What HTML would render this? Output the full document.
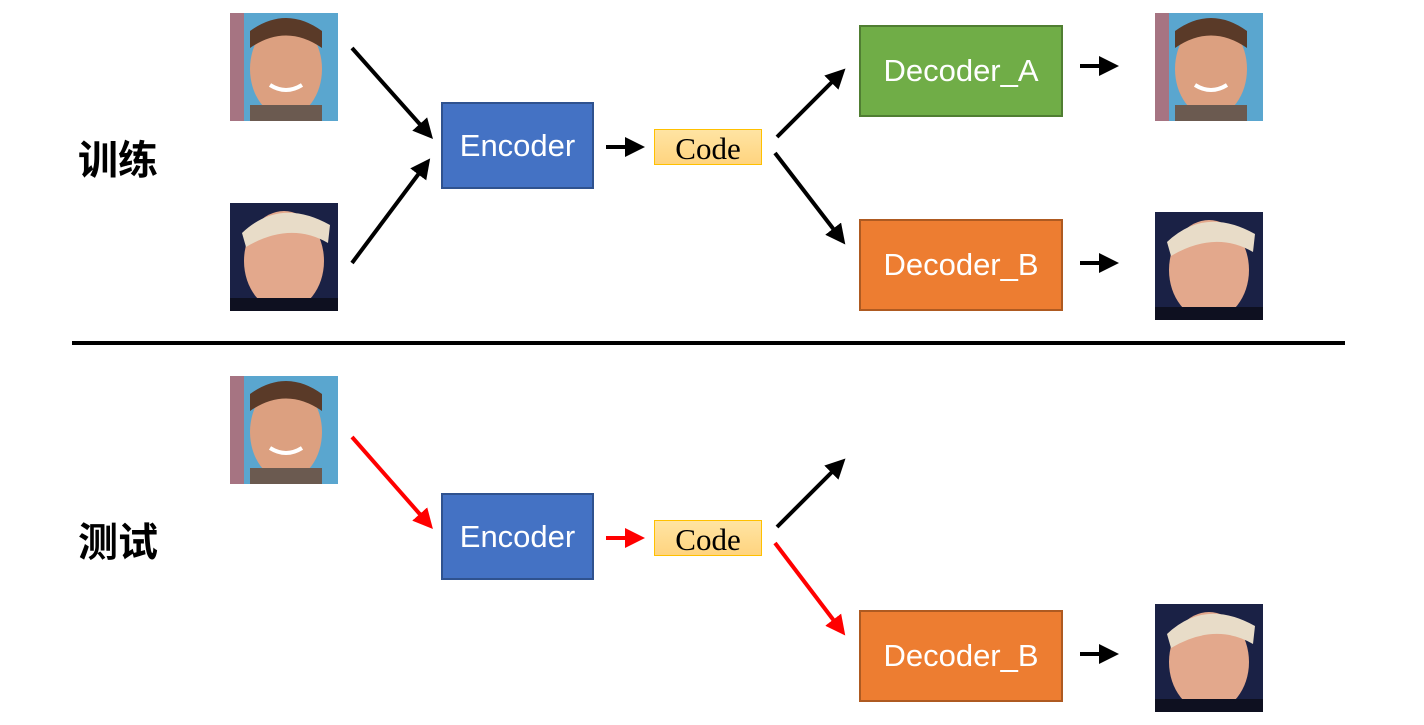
<!DOCTYPE html>
<html><head><meta charset="utf-8"><style>
body{margin:0;width:1424px;height:725px;background:#fff;position:relative;overflow:hidden;font-family:"Liberation Sans","Noto Sans CJK SC",sans-serif}
.b{position:absolute;box-sizing:border-box;color:#fff;font-size:31px;display:flex;align-items:center;justify-content:center}
.enc{background:#4472C4;border:2px solid #2F528F;width:153px;height:87px;left:441px}
.da{background:#70AD47;border:2px solid #507E32;width:204px;height:92px;left:859px}
.db{background:#ED7D31;border:2px solid #AE5A21;width:204px;height:92px;left:859px}
.code{position:absolute;box-sizing:border-box;left:654px;width:108px;height:36px;background:linear-gradient(#FFE4A3,#FFD47F);border:1.5px solid #FFC000;font-family:"Liberation Serif",serif;font-size:31px;display:flex;align-items:center;justify-content:center;color:#000;padding-top:3px}
.t{position:absolute;left:78px;font-size:40px;font-weight:bold;color:#000}
svg{position:absolute;left:0;top:0}
</style></head><body>
<div class="t" style="top:128px">训练</div>
<div class="t" style="top:510px">测试</div>
<div class="b enc" style="top:102px">Encoder</div>
<div class="b enc" style="top:493px">Encoder</div>
<div class="code" style="top:129px">Code</div>
<div class="code" style="top:520px">Code</div>
<div class="b da" style="top:25px">Decoder_A</div>
<div class="b db" style="top:219px">Decoder_B</div>
<div class="b db" style="top:610px">Decoder_B</div>
<svg width="1424" height="725">
<defs>
<marker id="k" markerWidth="5" markerHeight="5" refX="2" refY="2.5" orient="auto" markerUnits="strokeWidth"><path d="M0,0L5,2.5L0,5z" fill="#000"/></marker>
<marker id="r" markerWidth="5" markerHeight="5" refX="2" refY="2.5" orient="auto" markerUnits="strokeWidth"><path d="M0,0L5,2.5L0,5z" fill="#f00"/></marker>
<g id="cage"><rect width="108" height="108" fill="#5aa6cf"/><rect x="0" y="0" width="14" height="108" fill="#d9534f" opacity=".6"/><ellipse cx="56" cy="56" rx="36" ry="48" fill="#dca080"/><path d="M20,18Q56,-8 92,18L92,35Q56,10 20,35z" fill="#5a3a28"/><rect x="20" y="92" width="72" height="16" fill="#6b5a50"/><path d="M40,72Q56,82 72,72" stroke="#fff" stroke-width="4" fill="none"/></g>
<g id="trump"><rect width="108" height="108" fill="#1a2145"/><ellipse cx="54" cy="58" rx="40" ry="50" fill="#e3a88c"/><path d="M12,30Q50,-6 100,22L98,40Q60,18 16,44z" fill="#e8dcc8"/><rect x="0" y="95" width="108" height="13" fill="#0e1020"/></g>
</defs>
<use href="#cage" x="230" y="13"/>
<use href="#trump" x="230" y="203"/>
<use href="#cage" x="1155" y="13"/>
<use href="#trump" x="1155" y="212"/>
<use href="#cage" x="230" y="376"/>
<use href="#trump" x="1155" y="604"/>
<line x1="72" y1="343" x2="1345" y2="343" stroke="#000" stroke-width="4"/>
<g stroke="#000" stroke-width="4" fill="none" marker-end="url(#k)">
<line x1="352" y1="48" x2="425" y2="130"/>
<line x1="352" y1="263" x2="423" y2="168"/>
<line x1="606" y1="147" x2="633" y2="147"/>
<line x1="777" y1="137" x2="837" y2="77"/>
<line x1="775" y1="153" x2="838" y2="235"/>
<line x1="1080" y1="66" x2="1107" y2="66"/>
<line x1="1080" y1="263" x2="1107" y2="263"/>
<line x1="777" y1="527" x2="837" y2="467"/>
<line x1="1080" y1="654" x2="1107" y2="654"/>
</g>
<g stroke="#f00" stroke-width="4" fill="none" marker-end="url(#r)">
<line x1="352" y1="437" x2="425" y2="520"/>
<line x1="606" y1="538" x2="633" y2="538"/>
<line x1="775" y1="543" x2="838" y2="626"/>
</g>
</svg>
</body></html>
